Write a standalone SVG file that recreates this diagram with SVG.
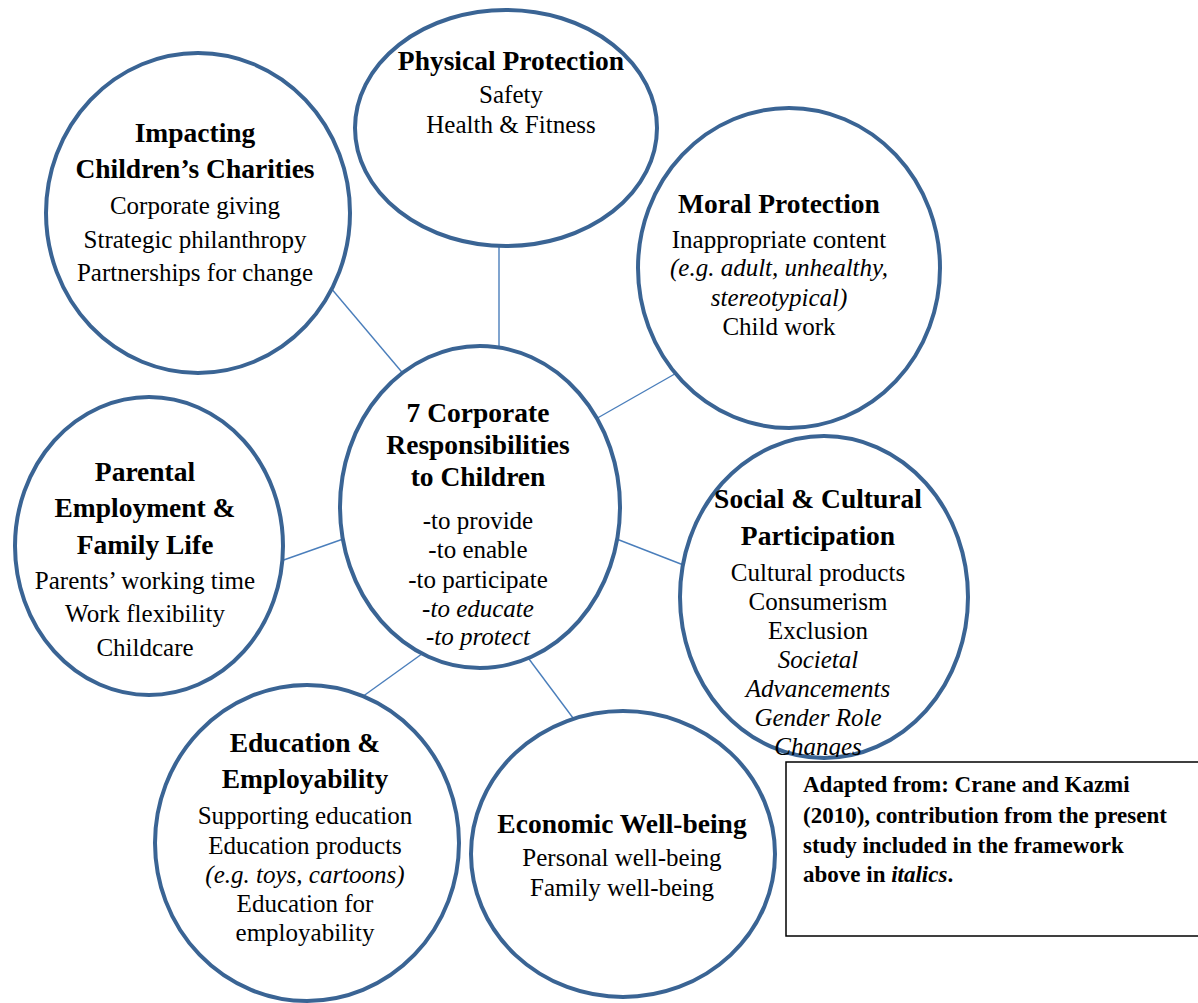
<svg xmlns="http://www.w3.org/2000/svg" width="1198" height="1003" viewBox="0 0 1198 1003">
<style>
.c{fill:#fff;stroke:#3a6494;stroke-width:4}
.ln{stroke:#4a7ebb;stroke-width:1.4;fill:none}
text{font-family:"Liberation Serif","Times New Roman",serif;fill:#000;text-anchor:middle}
.t{font-size:27.5px;font-weight:bold}
.b{font-size:25px}
.i{font-style:italic}
.bx{font-size:23px;font-weight:bold;text-anchor:start}
</style>
<defs>
<clipPath id="clipSoc"><rect x="0" y="0" width="1198" height="757"/></clipPath>
</defs>
<rect width="1198" height="1003" fill="#fff"/>
<g id="connectors">
<line class="ln" x1="499" y1="230" x2="499" y2="352"/>
<line class="ln" x1="330" y1="287" x2="406" y2="377"/>
<line class="ln" x1="680" y1="371" x2="594" y2="420"/>
<line class="ln" x1="278" y1="562" x2="346" y2="538"/>
<line class="ln" x1="614" y1="538" x2="686" y2="566"/>
<line class="ln" x1="362" y1="697" x2="426" y2="651"/>
<line class="ln" x1="576" y1="722" x2="526" y2="655"/>
</g>
<g id="physical">
<ellipse class="c" cx="506" cy="128" rx="151" ry="118"/>
<text class="t" x="511" y="70">Physical Protection</text>
<text class="b" x="511" y="103">Safety</text>
<text class="b" x="511" y="133">Health &amp; Fitness</text>
</g>
<g id="charities">
<ellipse class="c" cx="198" cy="213" rx="152" ry="160"/>
<text class="t" x="195" y="142">Impacting</text>
<text class="t" x="195" y="178">Children’s Charities</text>
<text class="b" x="195" y="214">Corporate giving</text>
<text class="b" x="195" y="248">Strategic philanthropy</text>
<text class="b" x="195" y="281">Partnerships for change</text>
</g>
<g id="moral">
<ellipse class="c" cx="789" cy="268" rx="151" ry="160"/>
<text class="t" x="779" y="213">Moral Protection</text>
<text class="b" x="779" y="248">Inappropriate content</text>
<text class="b i" x="779" y="276">(e.g. adult, unhealthy,</text>
<text class="b i" x="779" y="306">stereotypical)</text>
<text class="b" x="779" y="335">Child work</text>
</g>
<g id="center">
<ellipse class="c" cx="480" cy="507" rx="140" ry="161"/>
<text class="t" x="478" y="422">7 Corporate</text>
<text class="t" x="478" y="454">Responsibilities</text>
<text class="t" x="478" y="486">to Children</text>
<text class="b" x="478" y="529">-to provide</text>
<text class="b" x="478" y="558">-to enable</text>
<text class="b" x="478" y="588">-to participate</text>
<text class="b i" x="478" y="617">-to educate</text>
<text class="b i" x="478" y="645">-to protect</text>
</g>
<g id="parental">
<ellipse class="c" cx="149" cy="546" rx="134" ry="149"/>
<text class="t" x="145" y="481">Parental</text>
<text class="t" x="145" y="517">Employment &amp;</text>
<text class="t" x="145" y="554">Family Life</text>
<text class="b" x="145" y="589">Parents’ working time</text>
<text class="b" x="145" y="622">Work flexibility</text>
<text class="b" x="145" y="656">Childcare</text>
</g>
<g id="social">
<ellipse class="c" cx="824" cy="597" rx="144" ry="161"/>
<text class="t" x="818" y="508">Social &amp; Cultural</text>
<text class="t" x="818" y="545">Participation</text>
<text class="b" x="818" y="581">Cultural products</text>
<text class="b" x="818" y="610">Consumerism</text>
<text class="b" x="818" y="639">Exclusion</text>
<text class="b i" x="818" y="668">Societal</text>
<text class="b i" x="818" y="697">Advancements</text>
<text class="b i" x="818" y="726">Gender Role</text>
<text class="b i" x="818" y="755" clip-path="url(#clipSoc)">Changes</text>
</g>
<g id="education">
<ellipse class="c" cx="307" cy="843" rx="152" ry="158"/>
<text class="t" x="305" y="752">Education &amp;</text>
<text class="t" x="305" y="788">Employability</text>
<text class="b" x="305" y="824">Supporting education</text>
<text class="b" x="305" y="854">Education products</text>
<text class="b i" x="305" y="883">(e.g. toys, cartoons)</text>
<text class="b" x="305" y="912">Education for</text>
<text class="b" x="305" y="941">employability</text>
</g>
<g id="economic">
<ellipse class="c" cx="623" cy="854" rx="152" ry="143"/>
<text class="t" x="622" y="833">Economic Well-being</text>
<text class="b" x="622" y="866">Personal well-being</text>
<text class="b" x="622" y="896">Family well-being</text>
</g>
<g id="source-box">
<rect x="786" y="762" width="420" height="174" fill="#fff" stroke="#000" stroke-width="1.5"/>
<text class="bx" x="803" y="792">Adapted from: Crane and Kazmi</text>
<text class="bx" x="803" y="823">(2010), contribution from the present</text>
<text class="bx" x="803" y="853">study included in the framework</text>
<text class="bx" x="803" y="882">above in <tspan font-style="italic">italics</tspan>.</text>
</g>
</svg>
